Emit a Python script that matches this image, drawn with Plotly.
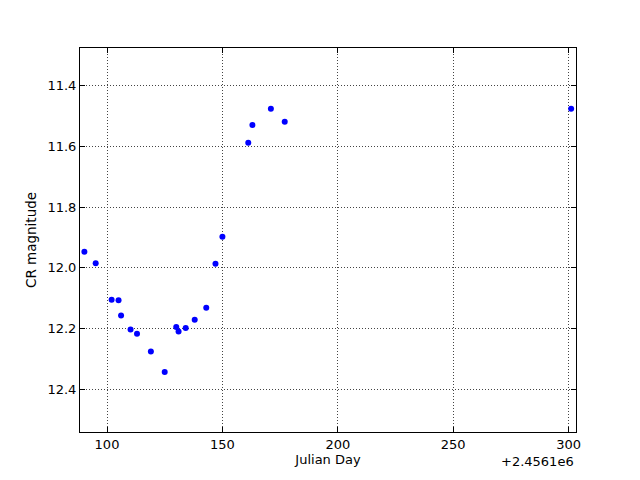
import plotly.graph_objects as go

# Julian Day offsets (JD - 2456100) and CR magnitudes
jd_offset = [90.2, 95.1, 102.0, 105.0, 106.1, 110.2, 113.0, 119.0, 125.0,
             130.0, 131.0, 134.1, 138.0, 143.0, 147.0, 150.0,
             161.2, 163.0, 171.0, 177.0, 301.1]
cr_mag = [11.947, 11.985, 12.105, 12.107, 12.157, 12.203, 12.217, 12.276, 12.343,
          12.195, 12.210, 12.198, 12.171, 12.131, 11.986, 11.897,
          11.587, 11.529, 11.475, 11.518, 11.475]
x_ticks = [100, 150, 200, 250, 300]
y_ticks = [11.4, 11.6, 11.8, 12.0, 12.2, 12.4]
offset_label = "+2.4561e6"

FONT = "DejaVu Sans"

fig = go.Figure()
fig.add_trace(go.Scatter(
    x=jd_offset, y=cr_mag, mode="markers",
    marker=dict(color="#0000ff", size=6, line=dict(width=0)),
    showlegend=False,
))

axis_common = dict(
    showline=True, linecolor="black", linewidth=1, mirror="allticks",
    ticks="inside", ticklen=5, tickwidth=1, tickcolor="black",
    showgrid=True, gridcolor="#444444", griddash="1px,2px", gridwidth=1,
    zeroline=False, automargin=False,
    tickfont=dict(family=FONT, size=13, color="black"),
)

# the page body has an 8px margin, so the figure is 8px smaller than the window
fig.update_layout(
    width=632, height=472,
    margin=dict(l=72, r=64, t=40, b=48),
    paper_bgcolor="white", plot_bgcolor="white",
    font=dict(family=FONT, size=13, color="black"),
    xaxis=dict(range=[88.3, 303.2], tickvals=x_ticks,
               ticktext=[str(v) for v in x_ticks],
               title=dict(text="Julian Day", standoff=3,
                          font=dict(family=FONT, size=13)),
               **axis_common),
    yaxis=dict(range=[12.541, 11.275], tickvals=y_ticks,
               ticktext=[f"{v:.1f}" for v in y_ticks],
               title=dict(text="CR magnitude", standoff=7,
                          font=dict(family=FONT, size=13.5)),
               **axis_common),
    annotations=[dict(
        text=offset_label, xref="paper", yref="paper", x=1.0, y=0,
        xanchor="right", yanchor="top", yshift=-20, showarrow=False,
        font=dict(family=FONT, size=13, color="black"),
    )],
)

fig.write_html("out.html")
